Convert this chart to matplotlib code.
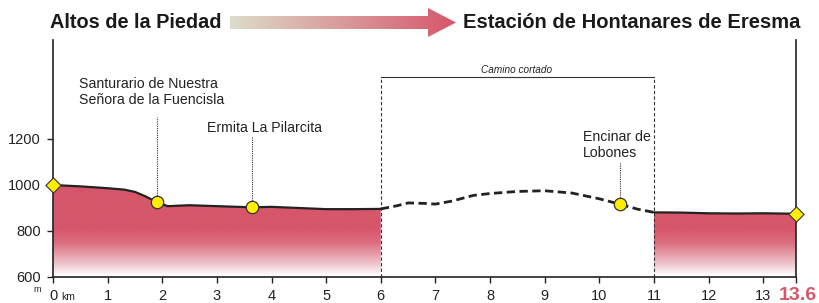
import matplotlib
matplotlib.use("Agg")
import matplotlib.pyplot as plt
import numpy as np
from matplotlib.patches import Polygon
from matplotlib.colors import LinearSegmentedColormap

plt.rcParams['font.family'] = ['Liberation Sans', 'DejaVu Sans']

# ---------------- data ----------------
seg1_km = [0, 0.5, 1.0, 1.3, 1.5, 1.7, 1.9, 2.1, 2.5, 3.0, 3.64, 4.0, 4.5, 5.0, 5.5, 6.0]
seg1_elev = [1000, 994, 986, 980, 970, 950, 925, 908, 912, 908, 903, 905, 900, 895, 895, 896]
cut_km = [6.0, 6.3, 6.5, 6.8, 7.0, 7.3, 7.7, 8.0, 8.5, 9.0, 9.5, 10.0, 10.37, 10.7, 11.0]
cut_elev = [896, 910, 922, 920, 917, 930, 955, 963, 972, 975, 965, 940, 917, 895, 881]
seg3_km = [11.0, 11.5, 12.0, 12.5, 13.0, 13.6]
seg3_elev = [881, 880, 877, 876, 877, 875]

end_km = [0, 13.6]
end_elev = [1000, 875]
poi_km = [1.9, 3.64, 10.37]
poi_elev = [925, 903, 917]
poi_names = ["Santurario de Nuestra\nSeñora de la Fuencisla", "Ermita La Pilarcita", "Encinar de\nLobones"]
poi_line_top = [1296, 1209, 1096]

cut_start, cut_end = 6.0, 11.0
cut_label = "Camino cortado"
start_name = "Altos de la Piedad"
end_name = "Estación de Hontanares de Eresma"
total_km = 13.6
xticks = list(range(0, 14))
yticks = [600, 800, 1000, 1200]

CRIMSON = '#d6566a'
W, H = 819, 303
fig = plt.figure(figsize=(W / 100, H / 100), dpi=100)

L, R, B, T = 53, 796, 277, 40
ax = fig.add_axes([L / W, (H - B) / H, (R - L) / W, (B - T) / H])
ymin = 600
ymax = 600 + (B - T) / 46 * 200
ax.set_xlim(0, total_km)
ax.set_ylim(ymin, ymax)


def px2km(px):
    return (px - L) / (R - L) * total_km


def py2el(py):
    return 600 + (B - py) / 46 * 200


cmap = LinearSegmentedColormap.from_list('g', [(0, '#ffffff'), (0.25, '#efc6cd'), (0.7, '#dc6e80'), (1, CRIMSON)])
grad = np.clip((np.linspace(600, 1100, 512) - 605) / (810 - 605), 0, 1).reshape(-1, 1)

for kms, els in [(seg1_km, seg1_elev), (seg3_km, seg3_elev)]:
    verts = list(zip(kms, els)) + [(kms[-1], ymin), (kms[0], ymin)]
    poly = Polygon(verts, closed=True, facecolor='none', edgecolor='none')
    ax.add_patch(poly)
    im = ax.imshow(grad, aspect='auto', cmap=cmap, origin='lower',
                   extent=[kms[0], kms[-1], 600, 1100], vmin=0, vmax=1, zorder=1)
    im.set_clip_path(poly)
    ax.plot(kms, els, color='#222222', lw=1.6, zorder=3, solid_capstyle='round')

ax.plot(cut_km, cut_elev, color='#222222', lw=2, ls=(0, (3, 1.6)), zorder=3)

# cut bracket
bracket_y = py2el(77)
ax.plot([cut_start, cut_start], [ymin, bracket_y], color='#333333', lw=0.8, ls=(0, (3, 2)), zorder=2)
ax.plot([cut_end, cut_end], [ymin, bracket_y], color='#333333', lw=0.8, ls=(0, (3, 2)), zorder=2)
ax.plot([cut_start, cut_end], [bracket_y, bracket_y], color='#333333', lw=0.8, zorder=2)
ax.text(px2km(517), py2el(70), cut_label, fontsize=7.2, style='italic',
        ha='center', va='center', color='#222222')

# POIs
text_pos = [(79, 92), (207, 128), (583, 145)]
for x, y, name, top, (tx, ty) in zip(poi_km, poi_elev, poi_names, poi_line_top, text_pos):
    ax.plot([x, x], [y, top], color='#333333', lw=0.8, ls=(0, (1, 1)), zorder=2)
    ax.text(px2km(tx), py2el(ty), name, fontsize=10.2, ha='left', va='center', color='#222222',
            linespacing=1.2)
ax.scatter(poi_km, poi_elev, s=80, c='#ffee00', edgecolors='#333333', linewidths=0.9, zorder=5, clip_on=False)
ax.scatter(end_km, end_elev, s=60, marker='D', c='#ffee00', edgecolors='#333333', linewidths=0.8,
           zorder=5, clip_on=False)

# axes styling
for s in ['left', 'right', 'bottom']:
    ax.spines[s].set_color('#222222')
    ax.spines[s].set_linewidth(1.2)
ax.spines['top'].set_visible(False)
ax.set_xticks(xticks + [total_km])
ax.set_xticklabels([str(t) for t in xticks] + [''])
ax.set_yticks(yticks)
ax.tick_params(axis='x', direction='out', length=4, width=1, pad=5, labelsize=10.5, colors='#222222')
ax.tick_params(axis='y', direction='out', length=4, width=1, pad=5, labelsize=10.5, colors='#222222')
ax.text(px2km(798), py2el(296), f"{total_km}", fontsize=14, fontweight='bold', color=CRIMSON,
        ha='center', va='center', clip_on=False)
ax.text(px2km(68), py2el(297), "km", fontsize=7.5, color='#222222', ha='center', va='center')
ax.text(px2km(37), py2el(289), "m", fontsize=6.5, color='#222222', ha='center', va='center')

# header overlay (pixel coords)
ov = fig.add_axes([0, 0, 1, 1], zorder=-1)
ov.set_xlim(0, W)
ov.set_ylim(H, 0)
ov.axis('off')
ov.text(50, 23, start_name, fontsize=14.3, fontweight='bold', ha='left', va='center', color='#1a1a1a')
ov.text(463, 23, end_name, fontsize=14.5, fontweight='bold', ha='left', va='center', color='#1a1a1a')
arrow = Polygon([(230, 16), (428, 16), (428, 8), (456, 22.5), (428, 37), (428, 29), (230, 29)],
                closed=True, facecolor='none', edgecolor='none')
ov.add_patch(arrow)
acmap = LinearSegmentedColormap.from_list('a', ['#dcdccb', CRIMSON])
aim = ov.imshow(np.linspace(0, 1, 256).reshape(1, -1), aspect='auto', cmap=acmap,
                extent=[230, 457, 37, 8])
aim.set_clip_path(arrow)

fig.savefig('out.png', dpi=100)
